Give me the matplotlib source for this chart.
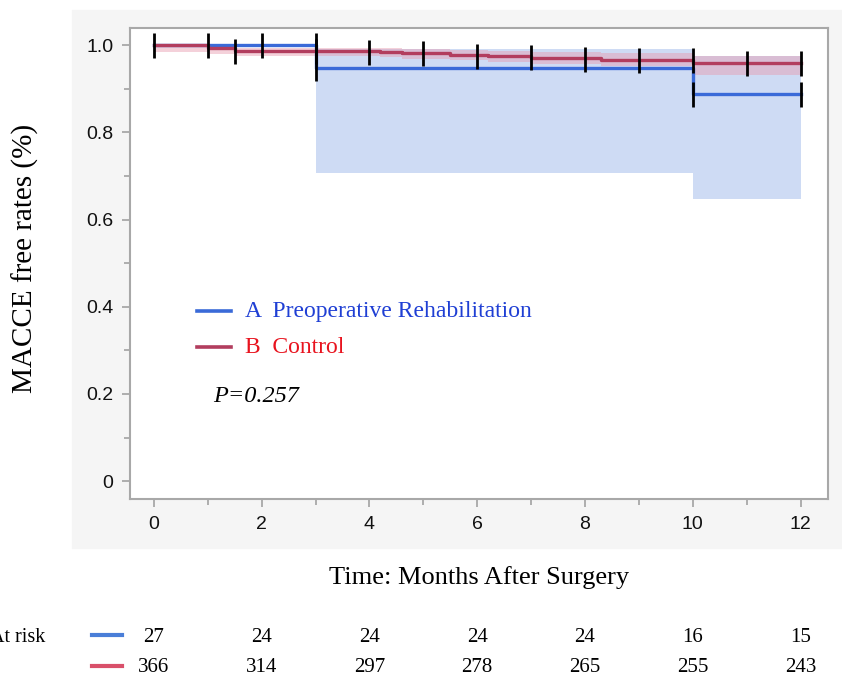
import matplotlib
matplotlib.use("Agg")
import matplotlib.pyplot as plt
from matplotlib.patches import Rectangle
from matplotlib.lines import Line2D
from matplotlib.transforms import blended_transform_factory

# group A: Preoperative Rehabilitation
time_a = [0, 3, 10, 12]
surv_a = [1.0, 0.948, 0.889, 0.889]
low_a = [1.0, 0.706, 0.646, 0.646]
up_a = [1.0, 0.992, 0.975, 0.975]
cens_a_t = [0, 1, 2, 3, 3, 10, 12]
cens_a_y = [1.0, 1.0, 1.0, 1.0, 0.948, 0.889, 0.889]

# group B: Control
time_b = [0, 1, 1.5, 4.2, 4.6, 5.5, 6.2, 7.0, 8.3, 10.0, 12]
surv_b = [1.0, 0.993, 0.987, 0.984, 0.981, 0.978, 0.974, 0.970, 0.967, 0.960, 0.960]
low_b = [0.985, 0.980, 0.974, 0.972, 0.968, 0.965, 0.961, 0.957, 0.953, 0.932, 0.932]
up_b = [1.0, 0.998, 0.994, 0.993, 0.991, 0.989, 0.987, 0.984, 0.981, 0.976, 0.976]
cens_b_t = [1.5, 3, 4, 5, 6, 7, 8, 9, 10, 11, 12]
cens_b_y = [0.987, 0.987, 0.984, 0.981, 0.976, 0.972, 0.968, 0.967, 0.967, 0.960, 0.960]

risk_months = [0, 2, 4, 6, 8, 10, 12]
risk_a = [27, 24, 24, 24, 24, 16, 15]
risk_b = [366, 314, 297, 278, 265, 255, 243]

blue = "#3a6ad8"
red = "#b23d5e"
serif = "Liberation Serif"
sans = "Liberation Sans"

fig = plt.figure(figsize=(8.42, 6.78), dpi=100)
fig.patches.append(Rectangle((72/842, 1-548/678), 1-72/842, 538/678,
                             transform=fig.transFigure, color="#f5f5f5", zorder=-5))

ax = fig.add_axes([130/842, 1-499/678, 698/842, 471.3/678])
ax.set_zorder(1)
ax.set_facecolor("white")

ax.fill_between(time_a, low_a, up_a, step="post", color="#c9d7f3", alpha=0.9, lw=0)
ax.fill_between(time_b, low_b, up_b, step="post", color="#e89aae", alpha=0.45, lw=0)
ax.step(time_a, surv_a, where="post", color=blue, lw=2.4)
ax.step(time_b, surv_b, where="post", color=red, lw=2.4)
ax.plot(cens_a_t, cens_a_y, ls="none", marker="|", ms=18, mew=2.0, color="black")
ax.plot(cens_b_t, cens_b_y, ls="none", marker="|", ms=18, mew=2.0, color="black")

ax.set_xlim(-0.445, 12.51)
ax.set_ylim(-0.041, 1.040)
ax.set_xticks(range(0, 13, 2))
ax.set_xticks(range(1, 13, 2), minor=True)
ax.set_yticks([0, 0.2, 0.4, 0.6, 0.8, 1.0])
ax.set_yticklabels(["0", "0.2", "0.4", "0.6", "0.8", "1.0"])
ax.set_yticks([0.1, 0.3, 0.5, 0.7, 0.9], minor=True)
for s in ax.spines.values():
    s.set_color("#a8a8a8")
    s.set_linewidth(1.5)
ax.tick_params(which="major", length=6, width=1.3, color="#a8a8a8", labelsize=14,
               labelcolor="#111111", pad=6)
ax.tick_params(which="minor", length=4, width=1.3, color="#a8a8a8")
for lab in ax.get_xticklabels() + ax.get_yticklabels():
    lab.set_family(sans)

fig.text(25/842, 1-258/678, "MACCE free rates (%)", rotation=90, family=serif,
         fontsize=21, ha="center", va="center")
fig.text(479/842, 1-578/678, "Time: Months After Surgery", family=serif,
         fontsize=19, ha="center", va="center")

# legend inside the plot
fig.add_artist(Line2D([197/842, 231/842], [1-311/678]*2, color=blue, lw=2.6, zorder=5))
fig.add_artist(Line2D([197/842, 231/842], [1-347/678]*2, color=red, lw=2.6, zorder=5))
fig.text(245/842, 1-311/678, "A  Preoperative Rehabilitation", family=serif,
         fontsize=17, color="#1f3fd4", va="center", zorder=5)
fig.text(245/842, 1-347/678, "B  Control", family=serif,
         fontsize=17, color="#e8131e", va="center", zorder=5)
fig.text(213/842, 1-396/678, "P=0.257", family=serif, style="italic",
         fontsize=17.5, va="center", zorder=5)

# number at risk table
tr = blended_transform_factory(ax.transData, fig.transFigure)
row_a = 1 - 637/678
row_b = 1 - 668/678
fig.text(45/842, row_a, "At risk", family=serif, fontsize=14.5, ha="right", va="center")
fig.add_artist(Line2D([92/842, 122/842], [row_a + 0.003]*2, color="#4a7ed8", lw=3))
fig.add_artist(Line2D([92/842, 122/842], [row_b + 0.003]*2, color="#d9506a", lw=3))
for m, na, nb in zip(risk_months, risk_a, risk_b):
    fig.text(m, row_a, str(na), transform=tr, family=serif, fontsize=15,
             ha="center", va="center")
    fig.text(m, row_b, str(nb), transform=tr, family=serif, fontsize=15,
             ha="center", va="center")

fig.savefig("out.png", dpi=100)
